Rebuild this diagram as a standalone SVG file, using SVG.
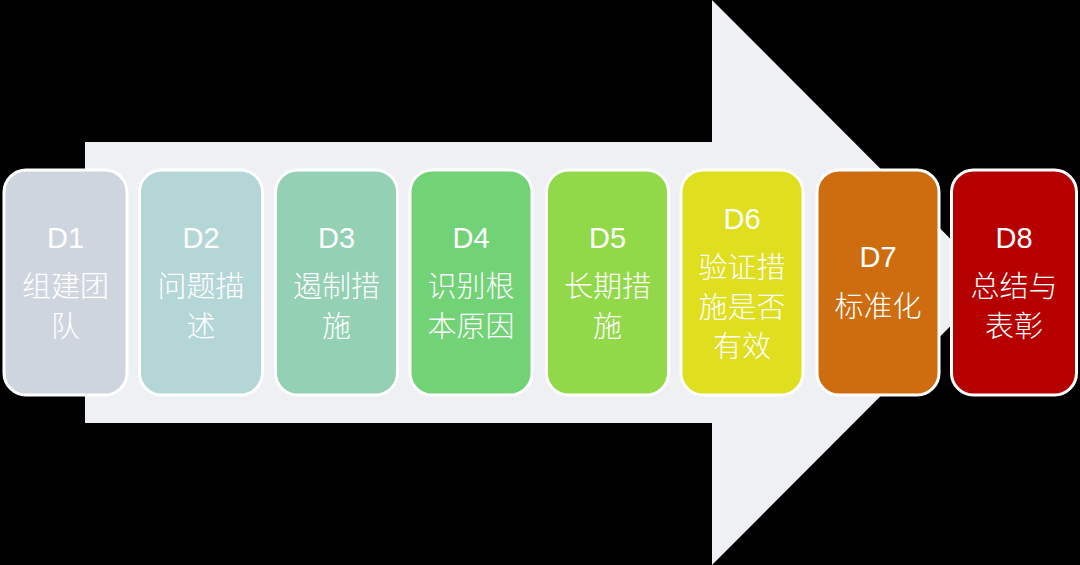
<svg xmlns="http://www.w3.org/2000/svg" width="1080" height="565" viewBox="0 0 1080 565">
<style>
.box{stroke:#ffffff;stroke-width:3}
.d{font-family:"Liberation Sans",Arial,sans-serif;font-size:29px;fill:#ffffff;text-anchor:middle}
.c{font-family:"Noto Sans CJK SC","Noto Sans",sans-serif;font-size:29px;font-weight:300;fill:#ffffff;text-anchor:middle}
</style>
<rect x="0" y="0" width="1080" height="565" fill="#000000"/>
<g id="arrow">
<polygon points="85,142 712,142 712,0 994,282.5 712,565 712,423 85,423" fill="#EFF0F4"/>
</g>
<g id="connectors"></g>
<g id="D1">
<rect class="box" x="4" y="170" width="123" height="225" rx="22" fill="#CFD5DE"/>
<text class="d" x="65.5" y="248">D1</text>
<text class="c" x="65.5" y="297">组建团</text>
<text class="c" x="65.5" y="337">队</text>
</g>
<g id="D2">
<rect class="box" x="139.5" y="170" width="123" height="225" rx="22" fill="#B4D6D6"/>
<text class="d" x="201" y="248">D2</text>
<text class="c" x="201" y="297">问题描</text>
<text class="c" x="201" y="337">述</text>
</g>
<g id="D3">
<rect class="box" x="275.5" y="170" width="122" height="225" rx="22" fill="#94D0B4"/>
<text class="d" x="336.5" y="248">D3</text>
<text class="c" x="336.5" y="297">遏制措</text>
<text class="c" x="336.5" y="337">施</text>
</g>
<g id="D4">
<rect class="box" x="410" y="170" width="122" height="225" rx="22" fill="#72D276"/>
<text class="d" x="471" y="248">D4</text>
<text class="c" x="471" y="297">识别根</text>
<text class="c" x="471" y="337">本原因</text>
</g>
<g id="D5">
<rect class="box" x="546.5" y="170" width="122" height="225" rx="22" fill="#92D94A"/>
<text class="d" x="607.5" y="248">D5</text>
<text class="c" x="607.5" y="297">长期措</text>
<text class="c" x="607.5" y="337">施</text>
</g>
<g id="D6">
<rect class="box" x="681" y="170" width="122" height="225" rx="22" fill="#DFDE1F"/>
<text class="d" x="742" y="229">D6</text>
<text class="c" x="742" y="278">验证措</text>
<text class="c" x="742" y="318">施是否</text>
<text class="c" x="742" y="357">有效</text>
</g>
<g id="D7">
<rect class="box" x="817" y="170" width="122" height="225" rx="22" fill="#CE6C10"/>
<text class="d" x="878" y="267">D7</text>
<text class="c" x="878" y="317">标准化</text>
</g>
<g id="D8">
<rect class="box" x="951.5" y="170" width="125" height="225" rx="22" fill="#B60000"/>
<text class="d" x="1014" y="248">D8</text>
<text class="c" x="1014" y="297">总结与</text>
<text class="c" x="1014" y="337">表彰</text>
</g>
</svg>
